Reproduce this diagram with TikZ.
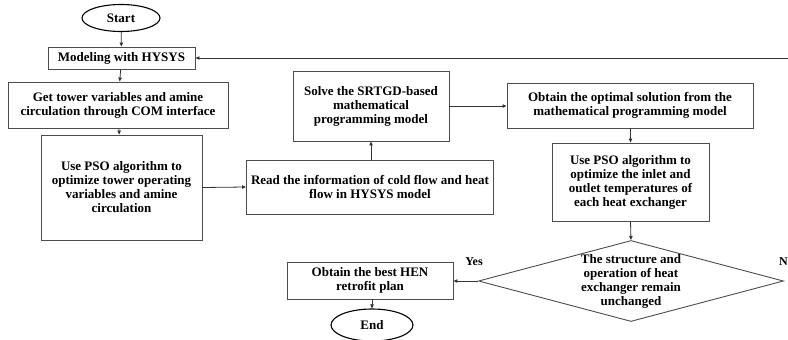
\documentclass[tikz,border=0pt]{standalone}
\usepackage{fontspec}
\setmainfont{Liberation Serif}
\usetikzlibrary{shapes.geometric,arrows.meta}
\begin{document}
\begin{tikzpicture}[x=1pt,y=-1pt,
  every node/.style={font=\fontsize{13}{14}\selectfont\bfseries, align=center},
  box/.style={draw=black!70, line width=0.9pt, rectangle, inner sep=0pt},
  term/.style={draw=black, line width=1.1pt, ellipse, inner sep=0pt},
  conn/.style={draw=black!80, line width=0.8pt, -{Triangle[length=4pt,width=3.4pt]}},
  lbl/.style={font=\fontsize{12}{14}\selectfont\bfseries, inner sep=0pt}]
\useasboundingbox (0,0) rectangle (788,340);
\node[term, minimum width=78, minimum height=27] (start) at (121,18) {Start};
\node[box, minimum width=147, minimum height=22] (model) at (121.5,58) {Modeling with HYSYS};
\node[box, minimum width=220, minimum height=46] (get) at (118,105) {Get tower variables and amine\\circulation through COM interface};
\node[box, minimum width=161, minimum height=105] (pso1) at (121.5,187.5) {Use PSO algorithm to\\optimize tower operating\\variables and amine\\circulation};
\node[box, minimum width=247, minimum height=54] (read) at (370,187) {Read the information of cold flow and heat\\flow in HYSYS model};
\node[box, minimum width=156, minimum height=70] (solve) at (371,106) {Solve the SRTGD-based\\mathematical\\programming model};
\node[box, minimum width=246, minimum height=45] (opt) at (630,105.5) {Obtain the optimal solution from the\\mathematical programming model};
\node[box, minimum width=157, minimum height=78] (pso2) at (630.5,182) {Use PSO algorithm to\\optimize the inlet and\\outlet temperatures of\\each heat exchanger};
\node[draw=black!70, line width=0.9pt, diamond, aspect=3.77, inner sep=0pt, minimum width=305, minimum height=81] (dia) at (631,281) {The structure and\\operation of heat\\exchanger remain\\unchanged};
\node[box, minimum width=166, minimum height=37] (best) at (370,280.5) {Obtain the best HEN\\retrofit plan};
\node[term, minimum width=82, minimum height=32] (end) at (372,325) {End};
\node[lbl] (yes) at (474,262) {Yes};
\node[lbl, anchor=west] (no) at (779,262) {N};
\coordinate (fb) at (788,58);
\draw[conn] (start) -- (model);
\draw[conn] (model) -- (get);
\draw[conn] (get) -- (pso1);
\draw[conn] (pso1.east) -- (read.west);
\draw[conn] (read.north -| solve.south) -- (solve.south);
\draw[conn] (solve.east) -- (opt.west |- solve.east);
\draw[conn] (opt.south -| pso2.north) -- (pso2.north);
\draw[conn] (pso2.south) -- (dia.north);
\draw[conn] (dia.west) -- (best.east |- dia.west);
\draw[conn] (best.south -| end.north) -- (end.north);
\draw[conn] (fb) -- (model.east);
\end{tikzpicture}
\end{document}
